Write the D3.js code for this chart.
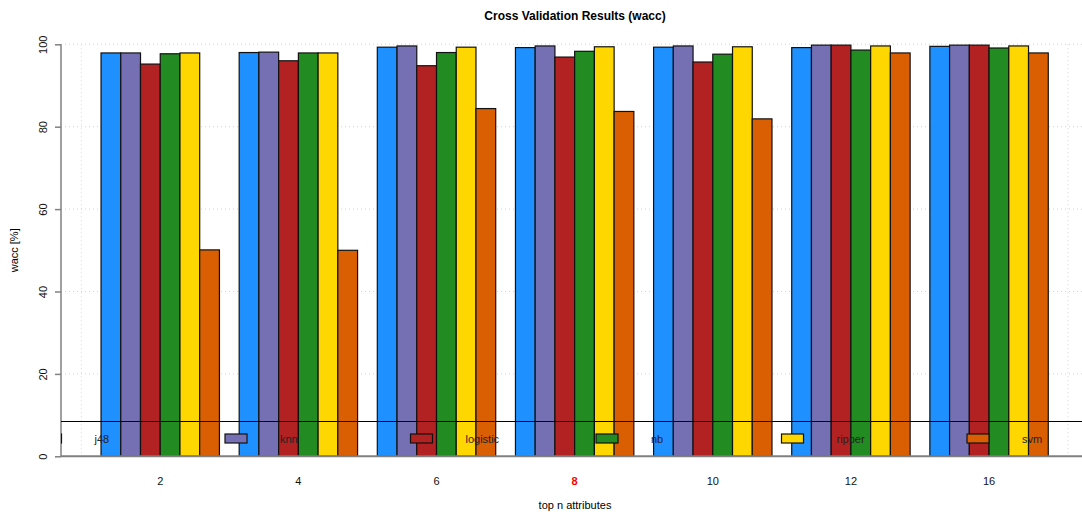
<!DOCTYPE html>
<html>
<head>
<meta charset="utf-8">
<script src="https://cdn.jsdelivr.net/npm/d3@7"></script>
<style>
  body { margin: 0; background: #fff; }
  text { font-family: "Liberation Sans", Arial, sans-serif; }
</style>
</head>
<body>
<div id="chart"></div>
<script>
// categories (top n attributes) and classifiers
const groups = ['2', '4', '6', '8', '10', '12', '16'];
const series = ['j48', 'knn', 'logistic', 'nb', 'ripper', 'svm'];
const colors = ['#1E90FF', '#7570B3', '#B22222', '#228B22', '#FFD700', '#D95F02'];

// wacc [%] per classifier, one value per group
const j48      = [97.9, 98.0, 99.3, 99.2, 99.3, 99.2, 99.5];
const knn      = [97.9, 98.1, 99.6, 99.6, 99.6, 99.8, 99.8];
const logistic = [95.2, 96.0, 94.8, 96.9, 95.7, 99.8, 99.8];
const nb       = [97.7, 97.9, 98.0, 98.3, 97.6, 98.6, 99.1];
const ripper   = [97.9, 97.9, 99.3, 99.4, 99.4, 99.6, 99.6];
const svm      = [50.1, 50.0, 84.4, 83.7, 81.9, 97.9, 97.9];
const values = [j48, knn, logistic, nb, ripper, svm];

const yTicks = [0, 20, 40, 60, 80, 100];
const highlight = '8';

const width = 1082, height = 514;
const plot = {left: 61, right: 1088, top: 44.3, bottom: 456.3};

const svg = d3.select('#chart').append('svg')
    .attr('width', width)
    .attr('height', height);

// scales
const x0 = d3.scaleBand()
    .domain(groups)
    .range([81.3, 1068])
    .paddingInner(1 / 7)
    .paddingOuter(1 / 7);

const x1 = d3.scaleBand()
    .domain(series)
    .range([0, x0.bandwidth()]);

const y = d3.scaleLinear()
    .domain([0, 100])
    .range([plot.bottom, plot.top]);

svg.append('defs').append('clipPath')
    .attr('id', 'clip')
    .append('rect')
    .attr('x', plot.left)
    .attr('y', 0)
    .attr('width', plot.right - plot.left)
    .attr('height', plot.bottom);

// dotted grid
const grid = svg.append('g').attr('clip-path', 'url(#clip)');
grid.selectAll('.hgrid')
    .data(yTicks.slice(1))
    .enter().append('line')
    .attr('x1', plot.left).attr('x2', plot.right)
    .attr('y1', d => y(d)).attr('y2', d => y(d))
    .attr('stroke', '#d3d3d3')
    .attr('stroke-dasharray', '1,3');
grid.selectAll('.vgrid')
    .data(x0.range())
    .enter().append('line')
    .attr('x1', d => d).attr('x2', d => d)
    .attr('y1', plot.top).attr('y2', plot.bottom)
    .attr('stroke', '#d3d3d3')
    .attr('stroke-dasharray', '1,3');

// bars
const bars = svg.append('g');
groups.forEach((g, gi) => {
    bars.append('g')
        .attr('transform', `translate(${x0(g)},0)`)
        .selectAll('rect')
        .data(series.map((s, si) => ({s: s, v: values[si][gi], c: colors[si]})))
        .enter().append('rect')
        .attr('x', d => x1(d.s))
        .attr('y', d => y(d.v))
        .attr('width', x1.bandwidth())
        .attr('height', d => y(0) - y(d.v))
        .attr('fill', d => d.c)
        .attr('stroke', '#111')
        .attr('stroke-width', 1.2);
});

// y axis
const yAxis = d3.axisLeft(y).tickValues(yTicks).tickSize(6).tickPadding(0);
const ya = svg.append('g')
    .attr('transform', `translate(${plot.left},0)`)
    .call(yAxis);
ya.select('.domain').attr('stroke', '#808080').attr('stroke-width', 1.5)
    .attr('d', `M0,${plot.top}V${plot.bottom}`);
ya.selectAll('.tick line').attr('stroke', '#808080').attr('stroke-width', 1.5);
ya.selectAll('.tick text')
    .attr('transform', d => `translate(-18,${0}) rotate(-90)`)
    .attr('x', 0).attr('dy', '0.35em')
    .attr('text-anchor', 'middle')
    .attr('font-size', 11)
    .attr('fill', '#111');

// baseline
svg.append('line')
    .attr('x1', plot.left).attr('x2', width)
    .attr('y1', plot.bottom).attr('y2', plot.bottom)
    .attr('stroke', '#808080')
    .attr('stroke-width', 2);

// x axis labels
const xAxis = d3.axisBottom(x0).tickSize(0).tickPadding(0);
const xa = svg.append('g')
    .attr('transform', `translate(0,${plot.bottom + 25})`)
    .call(xAxis);
xa.select('.domain').remove();
xa.selectAll('.tick text')
    .attr('font-size', 11)
    .attr('dy', '0.35em')
    .attr('y', 0)
    .attr('fill', d => d === highlight ? '#FF0000' : '#111')
    .attr('font-weight', d => d === highlight ? 'bold' : 'normal');

// titles
svg.append('text')
    .attr('x', 575).attr('y', 20)
    .attr('text-anchor', 'middle')
    .attr('font-size', 12)
    .attr('font-weight', 'bold')
    .text('Cross Validation Results (wacc)');

svg.append('text')
    .attr('x', 575).attr('y', 509)
    .attr('text-anchor', 'middle')
    .attr('font-size', 11)
    .text('top n attributes');

svg.append('text')
    .attr('transform', `translate(18,${(plot.top + plot.bottom) / 2}) rotate(-90)`)
    .attr('text-anchor', 'middle')
    .attr('font-size', 11)
    .text('wacc [%]');

// legend (clipped to the plot region, like the original)
const legend = svg.append('g').attr('clip-path', 'url(#clip)');
legend.append('line')
    .attr('x1', plot.left).attr('x2', plot.right)
    .attr('y1', 421.5).attr('y2', 421.5)
    .attr('stroke', '#000');

const legendX = d3.scaleLinear().domain([0, 1]).range([39.5, 225]);
const items = legend.selectAll('.item')
    .data(series)
    .enter().append('g')
    .attr('transform', (d, i) => `translate(${legendX(i)},434)`);
items.append('rect')
    .attr('width', 22).attr('height', 9)
    .attr('fill', (d, i) => colors[i])
    .attr('stroke', '#111')
    .attr('stroke-width', 1.2);
items.append('text')
    .attr('x', 55).attr('y', 9)
    .attr('font-size', 11)
    .attr('fill', '#222')
    .text(d => d);
</script>
</body>
</html>
